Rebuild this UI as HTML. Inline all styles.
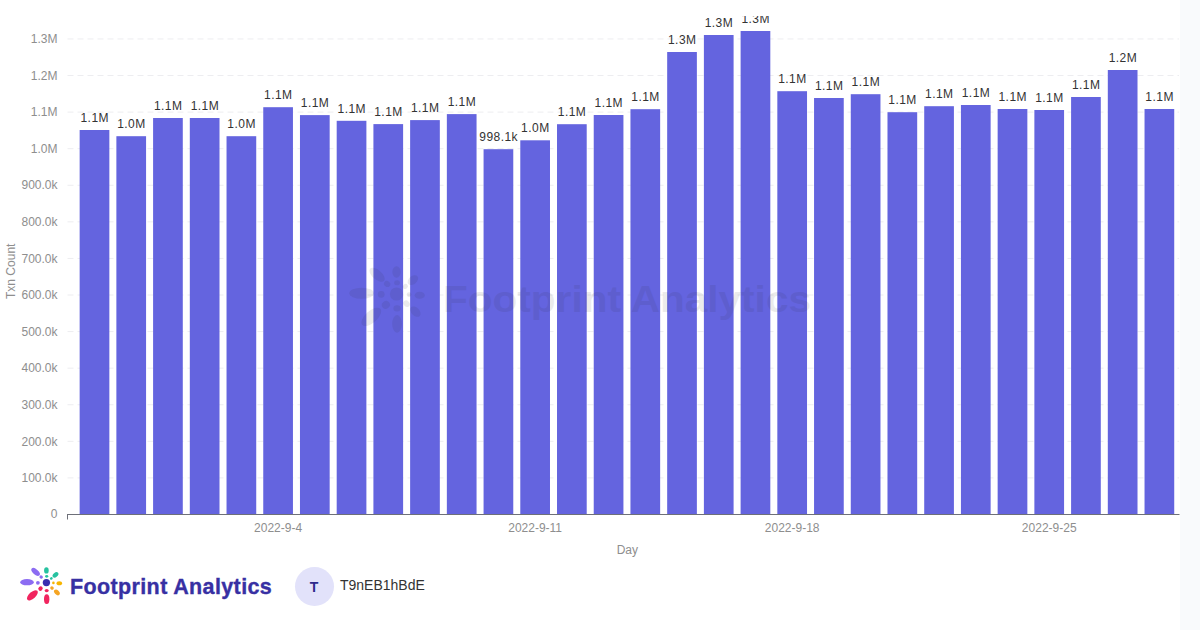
<!DOCTYPE html>
<html><head><meta charset="utf-8"><style>
html,body{margin:0;padding:0;}
body{width:1200px;height:630px;overflow:hidden;background:#fff;position:relative;font-family:"Liberation Sans",sans-serif;}
.strip{position:absolute;left:1180px;top:0;width:20px;height:630px;background:#f9fafc;}
svg{position:absolute;left:0;top:0;}
.bl{font-size:12px;fill:#333;letter-spacing:0.45px;font-family:"Liberation Sans",sans-serif;}
.yl{font-size:12px;fill:#8e8e8e;font-family:"Liberation Sans",sans-serif;}
.wm{font-size:36px;font-weight:bold;fill:#222;font-family:"Liberation Sans",sans-serif;}
.brand{position:absolute;left:70px;top:575px;font-size:21.5px;letter-spacing:0.37px;font-weight:bold;color:#3730a3;white-space:nowrap;line-height:24px;-webkit-text-stroke:0.35px #3730a3;}
.av{position:absolute;left:294.5px;top:566.5px;width:39px;height:39px;border-radius:50%;background:#e2e2fa;color:#2e2a8c;font-weight:bold;font-size:14px;line-height:40px;text-align:center;}
.uname{position:absolute;left:340px;top:577.4px;font-size:14px;color:#333;line-height:16px;white-space:nowrap;}
</style></head><body>
<div class="strip"></div>
<svg width="1200" height="630" viewBox="0 0 1200 630">
<defs><clipPath id="cp"><rect x="0" y="16" width="1180" height="614"/></clipPath></defs>
<g clip-path="url(#cp)">
<line x1="67.5" y1="477.92" x2="1179" y2="477.92" stroke="#ededf0" stroke-width="1" stroke-dasharray="6,4"/>
<line x1="67.5" y1="441.34" x2="1179" y2="441.34" stroke="#ededf0" stroke-width="1" stroke-dasharray="6,4"/>
<line x1="67.5" y1="404.76" x2="1179" y2="404.76" stroke="#ededf0" stroke-width="1" stroke-dasharray="6,4"/>
<line x1="67.5" y1="368.18" x2="1179" y2="368.18" stroke="#ededf0" stroke-width="1" stroke-dasharray="6,4"/>
<line x1="67.5" y1="331.60" x2="1179" y2="331.60" stroke="#ededf0" stroke-width="1" stroke-dasharray="6,4"/>
<line x1="67.5" y1="295.02" x2="1179" y2="295.02" stroke="#ededf0" stroke-width="1" stroke-dasharray="6,4"/>
<line x1="67.5" y1="258.44" x2="1179" y2="258.44" stroke="#ededf0" stroke-width="1" stroke-dasharray="6,4"/>
<line x1="67.5" y1="221.86" x2="1179" y2="221.86" stroke="#ededf0" stroke-width="1" stroke-dasharray="6,4"/>
<line x1="67.5" y1="185.28" x2="1179" y2="185.28" stroke="#ededf0" stroke-width="1" stroke-dasharray="6,4"/>
<line x1="67.5" y1="148.70" x2="1179" y2="148.70" stroke="#ededf0" stroke-width="1" stroke-dasharray="6,4"/>
<line x1="67.5" y1="112.12" x2="1179" y2="112.12" stroke="#ededf0" stroke-width="1" stroke-dasharray="6,4"/>
<line x1="67.5" y1="75.54" x2="1179" y2="75.54" stroke="#ededf0" stroke-width="1" stroke-dasharray="6,4"/>
<line x1="67.5" y1="38.96" x2="1179" y2="38.96" stroke="#ededf0" stroke-width="1" stroke-dasharray="6,4"/>
<rect x="79.65" y="130.00" width="29.7" height="384.50" fill="#6464df"/>
<rect x="116.37" y="136.20" width="29.7" height="378.30" fill="#6464df"/>
<rect x="153.09" y="118.00" width="29.7" height="396.50" fill="#6464df"/>
<rect x="189.81" y="118.00" width="29.7" height="396.50" fill="#6464df"/>
<rect x="226.53" y="136.20" width="29.7" height="378.30" fill="#6464df"/>
<rect x="263.25" y="107.20" width="29.7" height="407.30" fill="#6464df"/>
<rect x="299.97" y="115.10" width="29.7" height="399.40" fill="#6464df"/>
<rect x="336.69" y="120.80" width="29.7" height="393.70" fill="#6464df"/>
<rect x="373.41" y="124.10" width="29.7" height="390.40" fill="#6464df"/>
<rect x="410.13" y="120.10" width="29.7" height="394.40" fill="#6464df"/>
<rect x="446.85" y="114.10" width="29.7" height="400.40" fill="#6464df"/>
<rect x="483.57" y="149.20" width="29.7" height="365.30" fill="#6464df"/>
<rect x="520.29" y="140.30" width="29.7" height="374.20" fill="#6464df"/>
<rect x="557.01" y="124.20" width="29.7" height="390.30" fill="#6464df"/>
<rect x="593.73" y="115.00" width="29.7" height="399.50" fill="#6464df"/>
<rect x="630.45" y="109.20" width="29.7" height="405.30" fill="#6464df"/>
<rect x="667.17" y="52.00" width="29.7" height="462.50" fill="#6464df"/>
<rect x="703.89" y="35.00" width="29.7" height="479.50" fill="#6464df"/>
<rect x="740.61" y="31.00" width="29.7" height="483.50" fill="#6464df"/>
<rect x="777.33" y="91.20" width="29.7" height="423.30" fill="#6464df"/>
<rect x="814.05" y="98.00" width="29.7" height="416.50" fill="#6464df"/>
<rect x="850.77" y="94.20" width="29.7" height="420.30" fill="#6464df"/>
<rect x="887.49" y="112.20" width="29.7" height="402.30" fill="#6464df"/>
<rect x="924.21" y="106.20" width="29.7" height="408.30" fill="#6464df"/>
<rect x="960.93" y="105.00" width="29.7" height="409.50" fill="#6464df"/>
<rect x="997.65" y="109.00" width="29.7" height="405.50" fill="#6464df"/>
<rect x="1034.37" y="110.00" width="29.7" height="404.50" fill="#6464df"/>
<rect x="1071.09" y="97.00" width="29.7" height="417.50" fill="#6464df"/>
<rect x="1107.81" y="70.00" width="29.7" height="444.50" fill="#6464df"/>
<rect x="1144.53" y="109.00" width="29.7" height="405.50" fill="#6464df"/>
<text x="94.50" y="122.00" text-anchor="middle" class="bl" dx="0.22">1.1M</text>
<text x="131.22" y="128.20" text-anchor="middle" class="bl" dx="0.22">1.0M</text>
<text x="167.94" y="110.00" text-anchor="middle" class="bl" dx="0.22">1.1M</text>
<text x="204.66" y="110.00" text-anchor="middle" class="bl" dx="0.22">1.1M</text>
<text x="241.38" y="128.20" text-anchor="middle" class="bl" dx="0.22">1.0M</text>
<text x="278.10" y="99.20" text-anchor="middle" class="bl" dx="0.22">1.1M</text>
<text x="314.82" y="107.10" text-anchor="middle" class="bl" dx="0.22">1.1M</text>
<text x="351.54" y="112.80" text-anchor="middle" class="bl" dx="0.22">1.1M</text>
<text x="388.26" y="116.10" text-anchor="middle" class="bl" dx="0.22">1.1M</text>
<text x="424.98" y="112.10" text-anchor="middle" class="bl" dx="0.22">1.1M</text>
<text x="461.70" y="106.10" text-anchor="middle" class="bl" dx="0.22">1.1M</text>
<text x="498.42" y="141.20" text-anchor="middle" class="bl" dx="0.22">998.1k</text>
<text x="535.14" y="132.30" text-anchor="middle" class="bl" dx="0.22">1.0M</text>
<text x="571.86" y="116.20" text-anchor="middle" class="bl" dx="0.22">1.1M</text>
<text x="608.58" y="107.00" text-anchor="middle" class="bl" dx="0.22">1.1M</text>
<text x="645.30" y="101.20" text-anchor="middle" class="bl" dx="0.22">1.1M</text>
<text x="682.02" y="44.00" text-anchor="middle" class="bl" dx="0.22">1.3M</text>
<text x="718.74" y="27.00" text-anchor="middle" class="bl" dx="0.22">1.3M</text>
<text x="755.46" y="23.00" text-anchor="middle" class="bl" dx="0.22">1.3M</text>
<text x="792.18" y="83.20" text-anchor="middle" class="bl" dx="0.22">1.1M</text>
<text x="828.90" y="90.00" text-anchor="middle" class="bl" dx="0.22">1.1M</text>
<text x="865.62" y="86.20" text-anchor="middle" class="bl" dx="0.22">1.1M</text>
<text x="902.34" y="104.20" text-anchor="middle" class="bl" dx="0.22">1.1M</text>
<text x="939.06" y="98.20" text-anchor="middle" class="bl" dx="0.22">1.1M</text>
<text x="975.78" y="97.00" text-anchor="middle" class="bl" dx="0.22">1.1M</text>
<text x="1012.50" y="101.00" text-anchor="middle" class="bl" dx="0.22">1.1M</text>
<text x="1049.22" y="102.00" text-anchor="middle" class="bl" dx="0.22">1.1M</text>
<text x="1085.94" y="89.00" text-anchor="middle" class="bl" dx="0.22">1.1M</text>
<text x="1122.66" y="62.00" text-anchor="middle" class="bl" dx="0.22">1.2M</text>
<text x="1159.38" y="101.00" text-anchor="middle" class="bl" dx="0.22">1.1M</text>
<text x="57.5" y="517.70" text-anchor="end" class="yl">0</text>
<text x="57.5" y="482.12" text-anchor="end" class="yl">100.0k</text>
<text x="57.5" y="445.54" text-anchor="end" class="yl">200.0k</text>
<text x="57.5" y="408.96" text-anchor="end" class="yl">300.0k</text>
<text x="57.5" y="372.38" text-anchor="end" class="yl">400.0k</text>
<text x="57.5" y="335.80" text-anchor="end" class="yl">500.0k</text>
<text x="57.5" y="299.22" text-anchor="end" class="yl">600.0k</text>
<text x="57.5" y="262.64" text-anchor="end" class="yl">700.0k</text>
<text x="57.5" y="226.06" text-anchor="end" class="yl">800.0k</text>
<text x="57.5" y="189.48" text-anchor="end" class="yl">900.0k</text>
<text x="57.5" y="152.90" text-anchor="end" class="yl">1.0M</text>
<text x="57.5" y="116.32" text-anchor="end" class="yl">1.1M</text>
<text x="57.5" y="79.74" text-anchor="end" class="yl">1.2M</text>
<text x="57.5" y="43.16" text-anchor="end" class="yl">1.3M</text>
<line x1="67" y1="514.5" x2="1179.5" y2="514.5" stroke="#6e7079" stroke-width="1"/>
<line x1="67.5" y1="514.5" x2="67.5" y2="519.5" stroke="#6e7079" stroke-width="1"/>
<text x="278.10" y="531.8" text-anchor="middle" class="yl">2022-9-4</text>
<text x="535.14" y="531.8" text-anchor="middle" class="yl">2022-9-11</text>
<text x="792.18" y="531.8" text-anchor="middle" class="yl">2022-9-18</text>
<text x="1049.22" y="531.8" text-anchor="middle" class="yl">2022-9-25</text>
<text x="627.3" y="553.8" text-anchor="middle" class="yl">Day</text>
<text transform="translate(14.6 271.3) rotate(-90)" text-anchor="middle" class="yl">Txn Count</text>
<g opacity="0.085"><ellipse cx="361.58" cy="293.28" rx="12.24" ry="5.58" fill="#222" transform="rotate(0 361.58 293.28)"/>
<ellipse cx="381.20" cy="294.36" rx="3.42" ry="3.42" fill="#222" transform="rotate(0 381.20 294.36)"/>
<ellipse cx="377.06" cy="274.74" rx="9.18" ry="4.68" fill="#222" transform="rotate(40 377.06 274.74)"/>
<ellipse cx="387.14" cy="283.92" rx="3.24" ry="2.88" fill="#222" transform="rotate(38 387.14 283.92)"/>
<ellipse cx="396.50" cy="272.04" rx="4.14" ry="5.76" fill="#222" transform="rotate(0 396.50 272.04)"/>
<ellipse cx="397.04" cy="282.66" rx="2.88" ry="2.52" fill="#222" transform="rotate(0 397.04 282.66)"/>
<ellipse cx="412.88" cy="280.14" rx="5.94" ry="3.96" fill="#222" transform="rotate(-40 412.88 280.14)"/>
<ellipse cx="405.32" cy="286.44" rx="2.70" ry="2.34" fill="#222" transform="rotate(-40 405.32 286.44)"/>
<ellipse cx="419.72" cy="295.26" rx="5.04" ry="3.60" fill="#222" transform="rotate(0 419.72 295.26)"/>
<ellipse cx="409.10" cy="294.54" rx="2.34" ry="2.34" fill="#222" transform="rotate(0 409.10 294.54)"/>
<ellipse cx="415.40" cy="311.64" rx="6.12" ry="3.96" fill="#222" transform="rotate(45 415.40 311.64)"/>
<ellipse cx="406.58" cy="303.72" rx="3.42" ry="2.88" fill="#222" transform="rotate(45 406.58 303.72)"/>
<ellipse cx="397.04" cy="323.88" rx="4.86" ry="8.82" fill="#222" transform="rotate(0 397.04 323.88)"/>
<ellipse cx="397.04" cy="308.40" rx="3.60" ry="3.06" fill="#222" transform="rotate(0 397.04 308.40)"/>
<ellipse cx="371.30" cy="316.86" rx="12.06" ry="5.94" fill="#222" transform="rotate(-42 371.30 316.86)"/>
<ellipse cx="385.88" cy="304.80" rx="4.14" ry="3.78" fill="#222" transform="rotate(-40 385.88 304.80)"/>
<circle cx="396.50" cy="294.00" r="6.57" fill="#222"/><text x="443" y="312" class="wm" textLength="368" lengthAdjust="spacingAndGlyphs">Footprint Analytics</text></g>
</g>
<ellipse cx="27.00" cy="582.20" rx="6.80" ry="3.10" fill="#8c6cf2" transform="rotate(0 27.00 582.20)"/>
<ellipse cx="37.90" cy="582.80" rx="1.90" ry="1.90" fill="#8c6cf2" transform="rotate(0 37.90 582.80)"/>
<ellipse cx="35.60" cy="571.90" rx="5.10" ry="2.60" fill="#8c6cf2" transform="rotate(40 35.60 571.90)"/>
<ellipse cx="41.20" cy="577.00" rx="1.80" ry="1.60" fill="#8c6cf2" transform="rotate(38 41.20 577.00)"/>
<ellipse cx="46.40" cy="570.40" rx="2.30" ry="3.20" fill="#27c2a0" transform="rotate(0 46.40 570.40)"/>
<ellipse cx="46.70" cy="576.30" rx="1.60" ry="1.40" fill="#27c2a0" transform="rotate(0 46.70 576.30)"/>
<ellipse cx="55.50" cy="574.90" rx="3.30" ry="2.20" fill="#27c2a0" transform="rotate(-40 55.50 574.90)"/>
<ellipse cx="51.30" cy="578.40" rx="1.50" ry="1.30" fill="#27c2a0" transform="rotate(-40 51.30 578.40)"/>
<ellipse cx="59.30" cy="583.30" rx="2.80" ry="2.00" fill="#f7b500" transform="rotate(0 59.30 583.30)"/>
<ellipse cx="53.40" cy="582.90" rx="1.30" ry="1.30" fill="#f7b500" transform="rotate(0 53.40 582.90)"/>
<ellipse cx="56.90" cy="592.40" rx="3.40" ry="2.20" fill="#f5a524" transform="rotate(45 56.90 592.40)"/>
<ellipse cx="52.00" cy="588.00" rx="1.90" ry="1.60" fill="#f5a524" transform="rotate(45 52.00 588.00)"/>
<ellipse cx="46.70" cy="599.20" rx="2.70" ry="4.90" fill="#f1255f" transform="rotate(0 46.70 599.20)"/>
<ellipse cx="46.70" cy="590.60" rx="2.00" ry="1.70" fill="#f1255f" transform="rotate(0 46.70 590.60)"/>
<ellipse cx="32.40" cy="595.30" rx="6.70" ry="3.30" fill="#f1255f" transform="rotate(-42 32.40 595.30)"/>
<ellipse cx="40.50" cy="588.60" rx="2.30" ry="2.10" fill="#f1255f" transform="rotate(-40 40.50 588.60)"/>
<circle cx="46.40" cy="582.60" r="3.65" fill="#3a2fb0"/>
</svg>
<div class="brand">Footprint Analytics</div>
<div class="av">T</div>
<div class="uname">T9nEB1hBdE</div>
</body></html>
